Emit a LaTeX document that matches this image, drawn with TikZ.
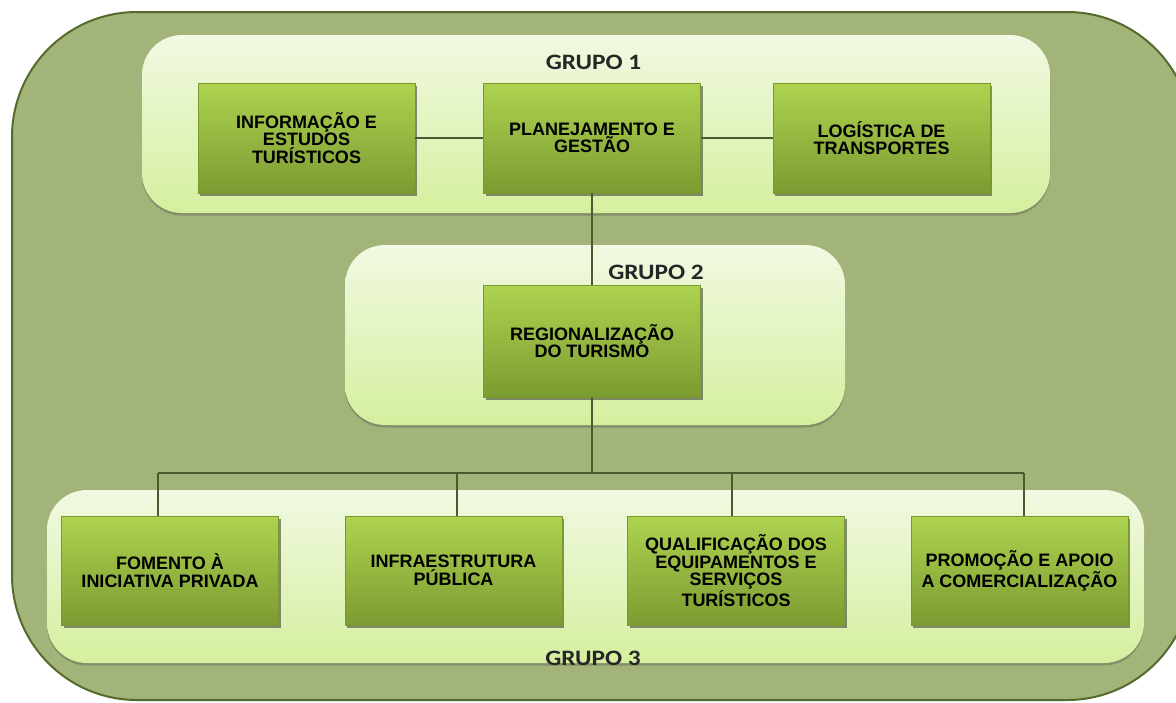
\documentclass[tikz,border=0pt]{standalone}
\usepackage{fontspec}
\setmainfont{Liberation Sans}
\newfontfamily\grupofont{Carlito}[FakeStretch=1.15]
\usetikzlibrary{shadows}
\definecolor{outerFill}{HTML}{A3B47A}
\definecolor{outerEdge}{HTML}{556B2C}
\definecolor{grpTop}{HTML}{F1F9E2}
\definecolor{grpBot}{HTML}{D5EF9E}
\definecolor{boxTop}{HTML}{AED350}
\definecolor{boxBot}{HTML}{7C9B31}
\definecolor{boxEdge}{HTML}{799830}
\definecolor{linkCol}{HTML}{4A5A2E}
\newcommand{\boxfont}{\fontsize{18}{17.5}\selectfont\bfseries}
\newcommand{\grpfont}{\grupofont\fontsize{22}{22}\selectfont\bfseries}
\tikzset{
  grp/.style={rectangle, rounded corners=40, inner sep=0pt, top color=grpTop, bottom color=grpBot,
    draw=none, drop shadow={shadow xshift=0pt, shadow yshift=-2.5pt, opacity=0.35, fill=black!70}},
  box/.style={rectangle, inner sep=0pt, minimum width=217, minimum height=110,
    top color=boxTop, bottom color=boxBot, draw=boxEdge, line width=0.8pt,
    align=center, text=black, font=\boxfont,
    drop shadow={shadow xshift=2pt, shadow yshift=-3pt, opacity=0.55, fill=black!80}},
  link/.style={draw=linkCol, line width=2.5pt},
  grplabel/.style={font=\grpfont, text=black!85, inner sep=0pt}
}
\begin{document}
\begin{tikzpicture}[x=1pt,y=-1pt]
\useasboundingbox (0,0) rectangle (1176,702);
\fill[white] (0,0) rectangle (1176,702);
% outer frame
\draw[fill=outerFill, draw=outerEdge, line width=2pt, rounded corners=125] (12,12) rectangle (1192,700);
% group panels
\node[grp, minimum width=908, minimum height=178] (g1) at (596,124) {};
\node[grp, minimum width=500, minimum height=180] (g2) at (595,335) {};
\node[grp, minimum width=1097, minimum height=173] (g3) at (595.5,576.5) {};
% bus drop points
\coordinate (d1) at (158,473);
\coordinate (d2) at (457,473);
\coordinate (d3) at (732,473);
\coordinate (d4) at (1024,473);
% group 1 boxes
\node[box] (info) at (306.5,138) {INFORMAÇÃO E\\ESTUDOS\\TURÍSTICOS};
\node[box] (plan) at (592,138) {PLANEJAMENTO E\\GESTÃO};
\node[box] (log) at (881.5,138) {LOGÍSTICA DE\\TRANSPORTES};
% group 2 box
\node[box, minimum height=112] (reg) at (592,341) {REGIONALIZAÇÃO\\DO TURISMO};
% group 3 boxes
\node[box, minimum height=109] (fom) at (170,570.5) {FOMENTO À\\INICIATIVA PRIVADA};
\node[box, minimum height=109] (infra) at (453.5,570.5) {INFRAESTRUTURA\\PÚBLICA};
\node[box, minimum height=109] (qual) at (736,570.5) {QUALIFICAÇÃO DOS\\EQUIPAMENTOS E\\SERVIÇOS\\TURÍSTICOS};
\node[box, minimum height=109] (prom) at (1019.5,570.5) {PROMOÇÃO E APOIO\\A COMERCIALIZAÇÃO};
% connectors
\draw[link] (info.east) -- (plan.west);
\draw[link] (plan.east) -- (log.west);
\draw[link] (plan.south) -- (reg.north);
\draw[link] (reg.south) -- (reg.south |- d1);
\draw[link] (d1) -- (d4);
\draw[link] (d1) -- (d1 |- fom.north);
\draw[link] (d2) -- (d2 |- infra.north);
\draw[link] (d3) -- (d3 |- qual.north);
\draw[link] (d4) -- (d4 |- prom.north);
% group labels
\node[grplabel] (l1) at (593.5,62) {GRUPO 1};
\node[grplabel] (l2) at (656,272) {GRUPO 2};
\node[grplabel] (l3) at (593,658) {GRUPO 3};
\end{tikzpicture}
\end{document}
